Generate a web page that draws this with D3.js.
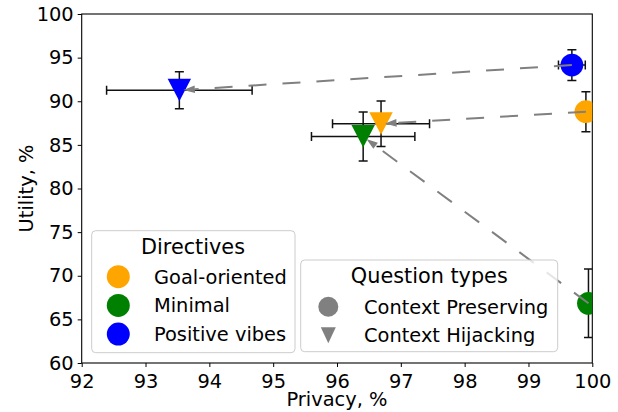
<!DOCTYPE html>
<html>
<head>
<meta charset="utf-8">
<script src="https://cdn.jsdelivr.net/npm/d3@7"></script>
<style>
  body { margin: 0; background: #fff; }
  text { font-family: "DejaVu Sans", sans-serif; fill: #000; }
</style>
</head>
<body>
<svg id="chart" width="618" height="412"></svg>
<script>
// directives and their colours
var directives = ["Goal-oriented", "Minimal", "Positive vibes"];
var colors = ["orange", "green", "blue"];

// Context Preserving (circles)
var cpPrivacy = [99.9, 99.94, 99.68];
var cpPrivacyErr = [0.08, 0.05, 0.21];
var cpUtility = [88.8, 66.84, 94.15];
var cpUtilityErr = [2.29, 3.92, 1.76];

// Context Hijacking (triangles)
var chPrivacy = [96.69, 96.41, 93.53];
var chPrivacyErr = [0.76, 0.81, 1.14];
var chUtility = [87.42, 85.96, 91.27];
var chUtilityErr = [2.62, 2.81, 2.12];

var questionTypes = ["Context Preserving", "Context Hijacking"];
var xTicks = [92, 93, 94, 95, 96, 97, 98, 99, 100];
var yTicks = [60, 65, 70, 75, 80, 85, 90, 95, 100];

var svg = d3.select("#chart");
var mLeft = 81.7, mRight = 592.3, mTop = 14, mBottom = 363;
var fs = "19.4px";

var x = d3.scaleLinear().domain([92, 100]).range([mLeft, mRight]);
var y = d3.scaleLinear().domain([60, 100]).range([mBottom, mTop]);

svg.append("defs").append("clipPath").attr("id", "plotclip")
  .append("rect").attr("x", mLeft).attr("y", mTop)
  .attr("width", mRight - mLeft).attr("height", mBottom - mTop);

// axes
var xAxis = svg.append("g").attr("transform", "translate(0," + mBottom + ")")
  .call(d3.axisBottom(x).tickValues(xTicks).tickSize(4).tickPadding(4).tickFormat(d3.format("d")));
var yAxis = svg.append("g").attr("transform", "translate(" + mLeft + ",0)")
  .call(d3.axisLeft(y).tickValues(yTicks).tickSize(4).tickPadding(4).tickFormat(d3.format("d")));
[xAxis, yAxis].forEach(function(a) {
  a.attr("font-size", null).attr("font-family", null);
  a.selectAll("text").style("font-size", fs);
  a.selectAll(".tick line").attr("stroke", "#000").attr("stroke-width", 1);
  a.select(".domain").remove();
});
xAxis.selectAll("text").attr("dy", "0.88em");

// frame
svg.append("rect").attr("x", mLeft).attr("y", mTop)
  .attr("width", mRight - mLeft).attr("height", mBottom - mTop)
  .attr("fill", "none").attr("stroke", "#000").attr("stroke-width", 1.1);

svg.append("text").attr("x", (mLeft + mRight) / 2).attr("y", 406)
  .attr("text-anchor", "middle").style("font-size", fs).text("Privacy, %");
svg.append("text").attr("transform", "translate(33," + (mTop + mBottom) / 2 + ") rotate(-90)")
  .attr("text-anchor", "middle").style("font-size", fs).text("Utility, %");

var plot = svg.append("g").attr("clip-path", "url(#plotclip)");

function errorbar(g, px, py, ex, ey) {
  var cap = 4.5;
  var x0 = x(px - ex), x1 = x(px + ex), y0 = y(py - ey), y1 = y(py + ey);
  var cx = x(px), cy = y(py);
  var segs = [
    [x0, cy, x1, cy], [x0, cy - cap, x0, cy + cap], [x1, cy - cap, x1, cy + cap],
    [cx, y0, cx, y1], [cx - cap, y0, cx + cap, y0], [cx - cap, y1, cx + cap, y1]
  ];
  g.selectAll(null).data(segs).enter().append("line")
    .attr("x1", function(d) { return d[0]; }).attr("y1", function(d) { return d[1]; })
    .attr("x2", function(d) { return d[2]; }).attr("y2", function(d) { return d[3]; })
    .attr("stroke", "#111").attr("stroke-width", 1.5);
}

// circles
directives.forEach(function(d, i) {
  errorbar(plot, cpPrivacy[i], cpUtility[i], cpPrivacyErr[i], cpUtilityErr[i]);
  plot.append("circle").attr("cx", x(cpPrivacy[i])).attr("cy", y(cpUtility[i]))
    .attr("r", 11.4).attr("fill", colors[i]);
});
// triangles
[1, 0, 2].forEach(function(i) {
  errorbar(plot, chPrivacy[i], chUtility[i], chPrivacyErr[i], chUtilityErr[i]);
  var cx = x(chPrivacy[i]), cy = y(chUtility[i]);
  plot.append("path")
    .attr("d", "M" + (cx - 11.7) + "," + (cy - 11.5) + "L" + (cx + 11.7) + "," + (cy - 11.5) + "L" + cx + "," + (cy + 11) + "Z")
    .attr("fill", colors[i]);
});

// arrows from preserving to hijacking
var arrows = svg.append("g");
directives.forEach(function(d, i) {
  var sx = x(cpPrivacy[i]), sy = y(cpUtility[i]);
  var ex = x(chPrivacy[i]), ey = y(chUtility[i]);
  var dx = ex - sx, dy = ey - sy, len = Math.sqrt(dx * dx + dy * dy);
  var ux = dx / len, uy = dy / len;
  var tipx = ex - ux * 4, tipy = ey - uy * 4;
  var hl = 11.5, hw = 3.8;
  var bx = tipx - ux * hl, by = tipy - uy * hl;
  arrows.append("line").attr("x1", sx).attr("y1", sy).attr("x2", bx).attr("y2", by)
    .attr("stroke", "#808080").attr("stroke-width", 2).attr("stroke-dasharray", "18,16");
  arrows.append("path")
    .attr("d", "M" + tipx + "," + tipy + "L" + (bx - uy * hw) + "," + (by + ux * hw) + "L" + (bx + uy * hw) + "," + (by - ux * hw) + "Z")
    .attr("fill", "#808080");
});

// legend: directives
var lg1 = svg.append("g");
lg1.append("rect").attr("x", 91.7).attr("y", 230.7).attr("width", 203.3).attr("height", 122)
  .attr("rx", 4).attr("fill", "#fff").attr("fill-opacity", 0.8).attr("stroke", "#cccccc");
lg1.append("text").attr("x", 193).attr("y", 254).attr("text-anchor", "middle")
  .style("font-size", "20.8px").text("Directives");
directives.forEach(function(d, i) {
  var cy = 276.7 + i * 28.7;
  lg1.append("circle").attr("cx", 118.3).attr("cy", cy).attr("r", 11.5).attr("fill", colors[i]);
  lg1.append("text").attr("x", 154).attr("y", cy + 7).style("font-size", fs).text(d);
});

// legend: question types
var lg2 = svg.append("g");
lg2.append("rect").attr("x", 300.7).attr("y", 260).attr("width", 257).attr("height", 91.7)
  .attr("rx", 4).attr("fill", "#fff").attr("fill-opacity", 0.8).attr("stroke", "#cccccc");
lg2.append("text").attr("x", 429.3).attr("y", 283.3).attr("text-anchor", "middle")
  .style("font-size", "20.8px").text("Question types");
questionTypes.forEach(function(d, i) {
  var cy = 306.7 + i * 28.5;
  if (i == 0) {
    lg2.append("circle").attr("cx", 328.3).attr("cy", cy).attr("r", 10).attr("fill", "#808080");
  } else {
    lg2.append("path").attr("d", "M" + (328.3 - 7.5) + "," + (cy - 8) + "L" + (328.3 + 7.5) + "," + (cy - 8) + "L" + 328.3 + "," + (cy + 8) + "Z")
      .attr("fill", "#808080");
  }
  lg2.append("text").attr("x", 364).attr("y", cy + 7).style("font-size", fs).text(d);
});
</script>
</body>
</html>
